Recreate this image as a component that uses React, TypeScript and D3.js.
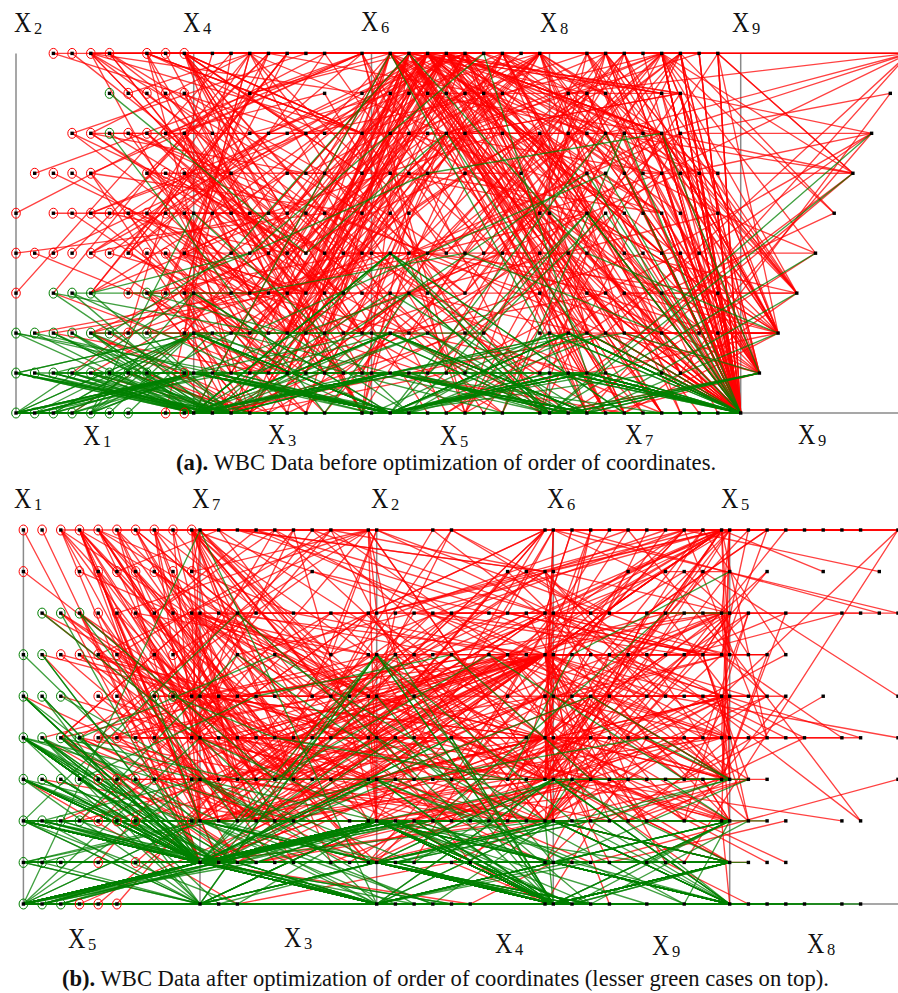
import React from "react";
import * as d3 from "d3";

type Row = number[];

const malignantCases: Row[] = [
[8,10,10,8,7,10,9,7,1],[5,3,3,3,2,3,4,4,1],[8,7,5,10,7,9,5,5,4],[7,4,6,4,6,1,4,3,1],[10,7,7,6,4,10,4,1,2],[7,3,2,10,5,10,5,4,4],
[10,5,5,3,6,7,7,10,1],[5,2,3,4,2,7,3,6,1],[10,7,7,3,8,5,7,4,3],[10,10,10,8,6,1,8,9,1],[5,4,4,9,2,10,5,6,1],[2,5,3,3,6,7,7,5,1],
[10,4,3,1,3,3,6,5,2],[6,10,10,2,8,10,7,3,3],[5,6,5,6,10,1,3,1,1],[10,10,10,4,8,1,8,10,1],[3,7,7,4,4,9,4,8,1],[7,8,7,2,4,8,3,8,2],
[9,5,8,1,2,3,2,1,5],[5,3,3,4,2,4,3,4,1],[10,3,6,2,3,5,4,10,2],[5,5,5,8,10,8,7,3,7],[10,5,5,6,8,8,7,1,1],[10,6,6,3,4,5,3,6,1],
[8,10,10,1,3,6,3,9,1],[8,2,4,1,5,1,5,4,4],[5,2,3,1,6,10,5,1,1],[9,5,5,2,2,2,5,1,1],[5,3,5,5,3,3,4,10,1],[9,10,10,1,10,8,3,3,1],
[6,3,4,1,5,2,3,9,1],[10,4,2,1,3,2,4,3,10],[5,3,4,1,8,10,4,9,1],[8,3,8,3,4,9,8,9,8],[6,10,2,8,10,2,7,8,10],[9,4,5,10,6,10,4,8,1],
[10,6,4,1,3,4,3,2,3],[3,5,7,8,8,9,7,10,7],[5,10,6,1,10,4,4,10,10],[3,3,6,4,5,8,4,4,1],[3,6,6,6,5,10,6,8,3],[9,6,9,2,10,6,2,9,10],
[7,5,6,10,5,10,7,9,4],[10,3,5,1,10,5,3,10,2],[2,3,4,4,2,5,2,5,1],[8,2,3,1,6,3,7,1,1],[10,10,10,10,10,1,8,8,8],[7,3,4,4,3,3,3,2,7],
[10,10,10,8,2,10,4,1,1],[1,6,8,10,8,10,5,7,1],[6,5,4,4,3,9,7,8,3],[8,6,4,3,5,9,3,1,1],[10,3,3,10,2,10,7,3,3],[10,10,10,3,10,8,8,1,1],
[4,5,5,10,4,10,7,5,8],[10,10,10,2,10,10,5,3,3],[5,3,5,1,8,10,5,3,1],[5,4,6,7,9,7,8,10,1],[7,5,3,7,4,10,7,5,5],[8,3,5,4,5,10,1,6,2],
[5,10,8,10,8,10,3,6,3],[9,5,5,4,4,5,4,3,3],[3,4,5,2,6,8,4,1,1],[8,8,7,4,10,10,7,8,7],[7,2,4,1,6,10,5,4,3],[10,10,8,6,4,5,8,10,1],
[5,5,5,6,3,10,3,1,1],[9,9,10,3,6,10,7,10,6],[10,7,7,4,5,10,5,7,2],[5,6,7,8,8,10,3,10,3],[10,8,10,10,6,1,3,1,10],[6,10,10,10,8,10,10,10,7],
[8,6,5,4,3,10,6,1,1],[5,8,7,7,10,10,5,7,1],[5,10,10,3,8,1,5,10,3],[5,3,3,3,6,10,3,1,1],[5,8,8,8,5,10,7,8,1],[8,7,6,4,4,10,5,1,1],
[1,5,8,6,5,8,7,10,1],[10,5,6,10,6,10,7,7,10],[5,8,4,10,5,8,9,10,1],[10,10,10,8,6,8,7,10,1],[7,5,10,10,10,10,4,10,3],[9,7,7,5,5,10,7,8,3],
[10,8,8,4,10,10,8,1,1],[5,10,10,9,6,10,7,10,5],[10,10,9,3,7,5,3,5,1],[8,10,10,10,5,10,8,10,6],[8,10,8,8,4,8,7,7,1],[10,10,10,10,7,10,7,10,4],
[10,10,10,10,3,10,10,6,1],[8,7,8,7,5,5,5,10,2],[6,10,7,7,6,4,8,10,2],[10,6,4,3,10,10,9,10,1],[4,1,1,3,1,5,2,1,1],[7,5,6,3,3,8,7,4,1],
[10,5,5,6,3,10,7,9,2],[10,5,7,4,4,10,8,9,1],[8,9,9,5,3,5,7,7,1],[10,10,10,3,10,10,9,10,1],[7,4,7,4,3,7,7,6,1],[6,8,7,5,6,8,8,9,2],
[10,4,5,5,5,10,4,1,1],[10,8,8,2,8,10,4,8,10],[9,8,8,5,6,2,4,10,4],[8,10,10,8,6,9,3,10,10],[10,4,3,2,3,10,5,3,2],[8,10,10,8,5,10,7,8,1],
[8,4,4,1,2,9,3,3,1],[10,4,4,10,2,10,5,3,3],[5,6,6,2,4,10,3,6,1],[10,5,8,10,3,10,5,1,3],[5,10,10,6,10,10,10,6,5],[8,8,9,4,5,10,7,8,1],
[10,4,4,10,6,10,5,5,1],[7,9,4,10,10,3,5,3,3],[10,10,6,3,3,10,4,3,2],[3,3,5,2,3,10,7,1,1],[10,8,8,2,3,4,8,7,8],[8,4,7,1,3,10,3,9,2],
[7,2,4,1,3,4,3,3,1],[10,5,7,3,3,7,3,3,8],[1,4,3,10,4,10,5,6,1],[10,4,6,1,2,10,5,3,1],[7,4,5,10,2,10,3,8,2],[8,10,10,10,8,10,10,7,3],
[10,10,10,10,10,10,4,10,10],[6,1,3,1,4,5,5,10,1],[5,6,6,8,6,10,4,10,4],[10,4,4,6,2,10,2,3,1],[5,5,7,8,6,10,7,4,1],[9,1,2,6,4,10,7,7,2],
[8,4,10,5,4,4,7,10,1],[10,10,10,7,9,10,7,10,10],[8,3,4,9,3,10,3,3,1],[10,8,4,4,4,10,3,10,4],[7,8,7,6,4,3,8,8,4],[8,6,4,10,10,1,3,5,1],
[5,5,5,2,5,10,4,3,1],[6,8,7,8,6,8,8,9,1],[7,6,3,2,5,10,7,4,6],[5,4,6,10,2,10,4,1,1],[10,1,1,1,2,10,5,4,1],[8,10,3,2,6,4,3,10,1],
[10,4,6,4,5,10,7,1,1],[10,4,7,2,2,8,6,1,1],[5,4,6,6,4,10,4,3,1],[8,6,7,3,3,10,3,4,2],[6,5,5,8,4,10,3,4,1],[8,5,5,5,2,10,4,3,1],
[10,3,3,1,2,10,7,6,1],[7,6,4,8,10,10,9,5,3],[3,4,4,10,5,1,3,3,1],[4,2,3,5,3,8,7,6,1],[5,7,10,6,5,10,7,5,1],[6,10,5,5,4,10,6,10,1],
[10,10,8,10,6,5,10,3,1],[8,10,10,10,7,5,4,8,7],[4,10,8,5,4,1,10,1,1],[10,5,10,3,5,8,7,8,3],[10,10,10,10,5,10,10,10,7],
[5,10,10,10,10,10,10,1,1],[5,10,10,10,4,10,5,6,3],[10,6,5,8,5,10,8,6,1],[8,10,10,10,6,10,10,10,1],[10,10,10,1,6,1,2,8,1],[10,10,10,7,10,10,8,2,1],
[10,9,8,7,6,4,7,10,3],[10,6,6,2,4,10,9,7,1],[6,6,6,5,4,10,7,6,2],[5,8,9,4,3,10,7,1,1],[10,4,5,4,3,5,7,3,1],[9,10,10,10,10,10,10,10,1],
[10,10,7,8,7,1,10,10,3],[8,7,8,2,4,2,5,10,1],[10,8,10,1,3,10,5,1,1],[8,10,4,4,8,10,8,2,1],[5,10,10,8,5,5,7,10,1],
[9,8,8,9,6,3,4,1,1],[2,7,10,10,7,10,4,9,4],[3,10,7,8,5,8,7,4,1],[5,7,4,1,6,1,7,10,3],[3,10,3,10,6,10,5,1,4],[8,10,10,10,6,10,10,10,10],
[7,8,3,7,4,5,7,8,2],[5,7,10,10,5,10,10,10,1],[8,4,4,1,6,10,2,5,2],[6,10,10,10,4,10,7,10,1],[4,8,7,10,4,10,7,5,1],[5,10,10,3,7,3,8,10,2],
[4,8,6,4,3,4,10,6,1],[4,8,8,5,4,5,10,4,1],[5,10,10,5,4,5,4,4,1],[5,10,8,10,8,10,3,6,3],[7,5,6,10,4,10,5,3,1],[5,10,10,10,5,2,8,5,1],
[10,3,4,5,3,10,4,1,1],[10,9,7,3,4,2,7,7,1],[10,5,7,4,4,10,8,9,1],[9,7,7,5,5,10,7,8,3],[4,7,8,3,4,10,9,1,1],[5,7,7,1,5,8,3,4,1],
[8,5,6,2,3,10,6,6,1],[10,2,2,1,2,6,1,1,2],[10,7,8,5,3,8,4,10,1],[10,6,3,6,4,10,7,8,4],[10,3,8,7,6,9,9,3,8],
[10,10,10,5,6,10,6,7,7],[10,8,7,4,3,10,7,9,1],[10,9,10,1,3,5,8,8,9],[9,8,10,10,5,10,8,2,9],[10,7,6,3,8,9,8,2,1],
[7,6,6,3,2,10,7,1,1],[4,6,4,3,5,8,7,8,1],[5,8,5,5,10,10,4,9,2],[8,8,6,5,10,8,7,6,1],
];

const benignCases: Row[] = [
[5,1,1,1,2,1,3,1,1],[5,4,4,5,7,10,3,2,1],[3,1,1,1,2,2,3,1,1],[6,8,8,1,3,4,3,7,1],[4,1,1,3,2,1,3,1,1],[1,1,1,1,2,10,3,1,1],
[2,1,2,1,2,1,3,1,1],[2,1,1,1,2,1,1,1,5],[4,2,1,1,2,1,2,1,1],[1,1,1,1,1,1,3,1,1],[2,1,1,1,2,1,2,1,1],[1,1,1,1,2,3,3,1,1],
[4,1,1,1,2,1,2,1,1],[4,1,1,1,2,1,3,1,1],[6,1,1,1,2,1,3,1,1],[3,1,1,1,2,1,2,1,1],[1,1,1,1,2,1,3,1,1],[3,2,1,1,1,1,2,1,1],
[5,1,1,1,2,1,2,1,1],[1,1,3,1,2,1,1,1,1],[3,1,1,1,1,1,2,1,1],[2,1,1,1,2,3,3,1,1],[2,1,1,2,2,1,3,1,1],[3,1,2,1,2,1,2,1,1],
[6,2,1,1,1,1,7,1,1],[1,1,1,1,2,1,2,1,2],[1,1,1,1,2,1,2,1,1],[1,1,1,1,2,2,2,1,1],[1,1,1,1,2,1,3,2,1],[5,1,3,1,2,1,2,1,1],
[1,3,3,2,2,1,7,2,1],[1,1,2,1,2,2,4,2,1],[1,1,4,1,2,1,2,1,1],[5,3,1,2,2,1,2,1,1],[3,1,1,1,2,3,3,1,1],[2,1,1,1,3,1,2,1,1],
[2,2,2,1,1,1,7,1,1],[4,1,1,2,2,1,2,1,1],[5,2,1,1,2,1,3,1,1],[3,1,1,1,2,2,7,1,1],[2,1,1,2,3,1,2,1,1],[3,1,1,2,2,1,1,1,1],
[2,1,1,2,2,1,1,1,1],[4,1,2,1,2,1,3,1,1],[1,1,1,1,2,1,2,3,1],[1,3,1,2,2,2,5,3,2],[3,3,2,1,2,3,3,1,1],[1,1,1,1,2,5,1,1,1],
[8,3,3,1,2,2,3,2,1],[1,1,1,1,4,3,1,1,1],[3,2,1,1,2,2,3,1,1],[1,1,2,2,2,1,3,1,1],[4,2,1,1,2,2,3,1,1],[3,1,1,1,2,1,3,1,1],
[1,1,1,1,10,1,1,1,1],[3,1,1,1,2,1,2,2,1],[3,1,1,1,3,1,2,1,1],[5,1,1,1,2,2,3,3,1],[3,1,1,1,2,1,1,1,1],[4,1,2,1,2,1,2,1,1],
[2,1,1,1,2,1,1,1,1],[1,1,1,1,2,5,1,1,1],[1,1,1,1,3,2,2,1,1],[3,1,1,3,8,1,5,8,1],[4,1,1,1,2,3,1,1,1],[1,1,1,1,2,1,1,1,1],
[1,2,2,1,2,1,2,1,1],[2,1,1,1,2,1,3,1,1],[4,1,1,1,2,1,3,2,1],[1,1,1,2,1,3,1,1,7],[4,1,1,1,2,2,3,2,1],[1,1,1,2,1,1,1,1,1],
[2,1,1,1,1,1,3,1,1],[1,2,3,1,2,1,3,1,1],[8,4,4,5,4,7,7,8,2],[5,1,1,4,2,1,3,1,1],[5,1,1,1,1,1,3,1,1],[6,1,3,1,2,1,3,1,1],
[1,1,1,2,2,1,3,1,1],[8,4,6,3,3,1,4,3,1],[3,3,2,1,3,1,3,6,1],[5,1,3,3,2,2,2,3,1],[3,1,1,3,1,1,3,1,1],[1,1,1,1,2,5,5,1,1],
[5,1,1,2,2,2,3,1,1],[4,1,1,1,2,1,3,6,1],[1,2,2,1,2,1,1,1,1],[6,3,3,5,3,10,3,5,3],[5,1,4,1,2,1,3,2,1],
[3,1,1,1,2,1,3,2,1],[2,1,1,2,2,1,3,1,1],[3,1,1,1,3,1,2,1,1],[5,3,4,3,4,5,4,7,1],[8,2,1,1,5,1,1,1,1],[3,1,1,1,2,5,5,1,1],
[4,4,4,4,6,5,7,3,1],[1,1,1,1,5,1,3,1,1],[3,2,2,1,2,1,2,3,1],[5,1,1,1,2,1,3,1,2],[5,2,2,2,2,1,2,2,1],[1,1,1,1,1,1,1,3,1],
[5,2,2,2,3,1,1,3,1],[5,1,1,3,2,1,1,1,1],[1,1,1,1,1,1,2,1,1],[5,1,1,1,2,1,1,1,1],[5,3,2,1,3,1,1,1,1],[1,1,1,1,2,1,1,1,8],
[1,1,1,3,2,1,1,1,1],[3,1,1,1,2,1,2,3,1],[3,1,1,1,2,1,2,1,2],[3,1,1,1,3,2,1,1,1],[4,1,4,1,2,1,1,1,1],[1,1,2,1,2,1,2,1,1],
[5,1,1,1,2,1,3,2,1],[2,3,1,1,2,1,2,1,1],[3,2,2,2,2,1,4,2,1],[4,4,2,1,2,5,2,1,2],[5,2,1,1,2,1,1,1,1],[5,1,2,1,2,1,3,1,1],
[1,2,1,3,2,1,2,1,1],[2,1,1,1,1,1,1,1,1],[4,2,2,1,2,1,2,1,1],[5,1,2,1,2,1,1,1,1],[3,1,2,1,2,1,1,1,1],[3,1,1,2,3,4,1,1,1],
[1,2,1,3,2,1,1,2,1],[5,2,2,2,2,1,1,1,2],[4,1,1,1,1,1,2,1,1],[5,1,1,1,2,2,2,1,1],[3,2,2,1,4,3,2,1,1],[4,1,2,1,2,1,1,1,1],
[5,4,3,1,2,2,2,3,1],[3,4,5,3,7,3,4,6,1],[1,1,3,1,1,1,2,1,1],[6,2,3,1,2,1,1,1,1],[2,3,2,2,2,2,3,1,1],[1,2,3,1,2,1,2,1,1],
[6,1,1,1,2,1,2,1,1],[3,1,3,1,3,4,1,1,1],[5,2,2,2,1,1,2,1,1],[3,2,2,3,2,3,3,1,1],[2,1,3,2,2,1,2,1,1],
[1,1,1,3,1,3,1,1,1],[1,3,1,1,2,1,2,2,1],[1,2,1,1,1,1,3,1,1],[5,3,1,1,2,1,1,1,1],[4,3,1,1,2,1,4,8,1],[7,1,2,3,2,1,2,1,1],
[1,1,1,1,1,2,1,1,1],[4,4,4,2,2,3,2,1,1],[3,2,1,2,2,1,3,1,1],[1,1,1,2,2,1,2,1,1],[7,2,2,1,2,1,2,1,1],
[3,3,3,1,2,2,3,1,1],[4,3,2,1,2,1,2,1,1],[2,2,1,1,2,1,3,1,1],[5,2,3,1,2,1,3,1,1],[1,2,1,1,2,1,3,1,1],[2,1,1,3,2,1,2,1,1],
[5,1,1,6,3,1,2,1,1],[4,1,1,1,2,1,2,3,1],[6,1,1,3,2,1,1,1,1],[3,1,1,1,1,1,3,1,1],[4,1,2,2,2,1,1,1,1],[2,2,3,2,2,2,2,1,1],
[1,1,1,1,2,2,3,1,1],[6,1,2,1,2,1,2,1,1],[5,2,4,1,1,1,1,1,1],[3,1,1,1,2,1,7,1,1],[2,1,2,1,2,1,1,1,1],[4,2,3,1,2,1,3,1,1],
[5,3,2,1,2,1,3,1,1],[6,2,2,1,2,1,1,2,1],[3,4,3,1,2,1,2,2,1],
[1,1,1,1,2,1,3,1,2],[1,1,1,1,2,1,3,1,3],[3,1,1,1,2,1,3,1,4],[2,1,1,1,2,2,2,1,1],
[5,1,1,2,2,1,2,3,1],[4,1,1,1,3,1,3,1,1],[5,1,1,1,4,1,3,1,1],[2,1,1,1,2,4,3,1,1],[1,1,2,1,3,1,2,1,1],
[4,3,3,1,2,1,3,3,1],[1,1,1,4,2,1,3,1,1],[2,2,1,1,3,1,2,2,1],[4,2,2,2,2,1,2,2,1],[3,1,3,1,2,1,2,2,1],
[2,1,4,1,2,1,2,1,1],[7,2,1,1,2,1,2,1,1],[1,1,1,1,2,1,4,1,1],[3,1,1,1,2,1,5,1,1],[4,1,1,1,2,1,6,1,1],[5,1,1,1,2,1,4,1,1],
[6,9,7,5,5,8,4,2,1],
];

const orderA = [[1, 2], [3, 4], [5, 6], [7, 8], [9, 9]];
const orderB = [[2, 1], [4, 5], [6, 7], [8, 3], [9, 2]];
const originsA = [16, 193.7, 371.5, 549.5, 740.7];
const originsB = [23.4, 200, 376.7, 553.3, 729.7];

const topLabelsA = [["2", 14, 32], ["4", 183, 32], ["6", 361, 31], ["8", 540, 32], ["9", 732, 32]];
const bottomLabelsA = [["1", 83, 445], ["3", 268, 444], ["5", 440, 445], ["7", 625, 444], ["9", 798, 444]];
const topLabelsB = [["1", 14, 508], ["7", 192, 508], ["2", 371, 508], ["6", 547, 508], ["5", 721, 508]];
const bottomLabelsB = [["5", 68, 948], ["3", 284, 947], ["4", 495, 953], ["9", 652, 955], ["8", 807, 953]];

const RED = "#ff0000";
const GREEN = "#008000";
const SERIF = "'Liberation Serif', 'Times New Roman', serif";

function Panel({ order, origins, yTop, yBottom }: { order: number[][]; origins: number[]; yTop: number; yBottom: number }) {
  const dx = d3.scaleLinear().domain([1, 10]).range([0, 168.3]);
  const y = d3.scaleLinear().domain([1, 10]).range([yBottom, yTop]);
  const pts = (r: Row) => order.map(([h, v], i) => [origins[i] + dx(r[h - 1]), y(r[v - 1])] as [number, number]);
  const line = d3.line<[number, number]>();
  const dots = new Map<string, [number, number]>();
  const firsts = new Map<string, { p: [number, number]; c: string }>();
  const add = (rows: Row[], c: string) =>
    rows.forEach((r) => {
      const ps = pts(r);
      ps.forEach((p) => dots.set(p.join(), p));
      firsts.set(ps[0].join(), { p: ps[0], c });
    });
  add(malignantCases, RED);
  add(benignCases, GREEN);
  return (
    <g>
      {origins.map((o) => (
        <line key={o} x1={o} x2={o} y1={yTop} y2={yBottom} stroke="#8a8a8a" strokeWidth={1.5} />
      ))}
      <line x1={origins[0]} x2={898} y1={yBottom} y2={yBottom} stroke="#8a8a8a" strokeWidth={1.5} />
      <g fill="none" strokeOpacity={0.75} strokeWidth={1.35}>
        {malignantCases.map((r, i) => (
          <path key={i} d={line(pts(r)) || ""} stroke={RED} />
        ))}
        {benignCases.map((r, i) => (
          <path key={i} d={line(pts(r)) || ""} stroke={GREEN} />
        ))}
      </g>
      {[...firsts.values()].map(({ p, c }) => (
        <ellipse key={p.join()} cx={p[0]} cy={p[1]} rx={4.3} ry={5} fill="none" stroke={c} strokeWidth={1} />
      ))}
      {[...dots.values()].map((p) => (
        <rect key={p.join()} x={p[0] - 1.7} y={p[1] - 1.7} width={3.4} height={3.4} fill="#000" />
      ))}
    </g>
  );
}

function AxisLabels({ items }: { items: (string | number)[][] }) {
  return (
    <>
      {items.map(([n, x, yy]) => (
        <g key={`${n}${x}`} fontFamily={SERIF} fill="#111">
          <text transform={`translate(${x},${yy}) scale(0.83,1)`} fontSize={29}>X</text>
          <text x={(x as number) + 20} y={(yy as number) + 2} fontSize={16.5}>{n}</text>
        </g>
      ))}
    </>
  );
}

export default function App() {
  return (
    <svg width={898} height={993} style={{ position: "absolute", left: 0, top: 0, background: "#fff" }}>
      <Panel order={orderA} origins={originsA} yTop={53.4} yBottom={413} />
      <Panel order={orderB} origins={originsB} yTop={530} yBottom={904} />
      <AxisLabels items={topLabelsA} />
      <AxisLabels items={bottomLabelsA} />
      <AxisLabels items={topLabelsB} />
      <AxisLabels items={bottomLabelsB} />
      <text x={176} y={470} fontFamily={SERIF} fontSize={22.7} fill="#111">
        <tspan fontWeight="bold">(a).</tspan> WBC Data before optimization of order of coordinates.
      </text>
      <text x={62} y={986} fontFamily={SERIF} fontSize={22.6} fill="#111">
        <tspan fontWeight="bold">(b).</tspan> WBC Data after optimization of order of coordinates (lesser green cases on top).
      </text>
    </svg>
  );
}
